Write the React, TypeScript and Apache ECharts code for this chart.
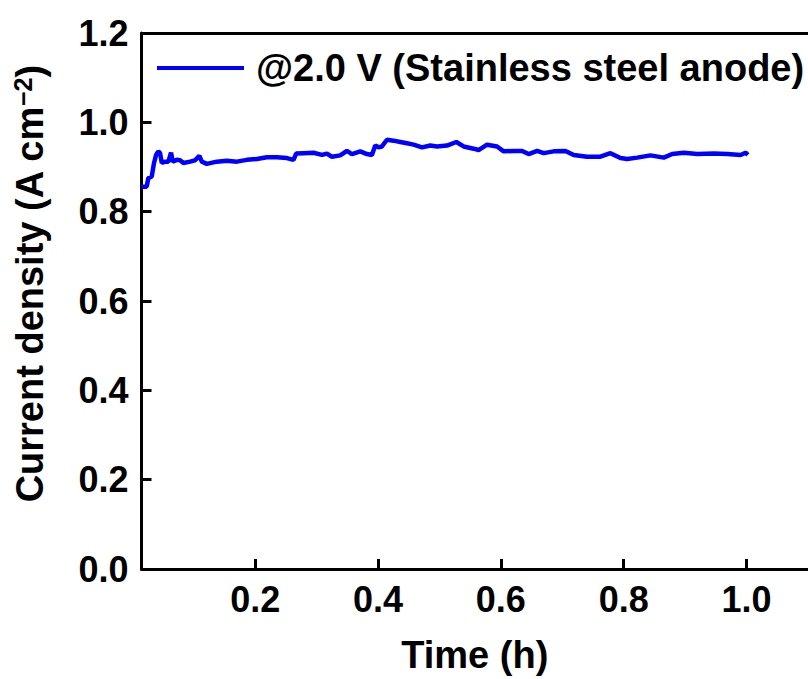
import React, { useEffect, useRef } from "react";
import * as echarts from "echarts";

const seriesName = "@2.0 V (Stainless steel anode)";
const timeH = [
  0.0154, 0.0235, 0.0261, 0.0317, 0.0354, 0.0387, 0.0424, 0.0452, 0.048, 0.0534,
  0.0587, 0.0631, 0.0659, 0.0724, 0.0778, 0.0832, 0.0941, 0.1022, 0.1092, 0.1132,
  0.1213, 0.1376, 0.1539, 0.1702, 0.1865, 0.2028, 0.2191, 0.2354, 0.2517, 0.2624,
  0.2668, 0.2787, 0.295, 0.3087, 0.3168, 0.325, 0.3385, 0.3494, 0.3576, 0.3711,
  0.382, 0.3901, 0.3955, 0.4009, 0.4064, 0.4146, 0.4253, 0.4363, 0.4472, 0.4579,
  0.4716, 0.4851, 0.4961, 0.5123, 0.5275, 0.5394, 0.5557, 0.5638, 0.5775, 0.5938,
  0.6046, 0.6209, 0.6345, 0.6453, 0.659, 0.6697, 0.686, 0.7051, 0.7186, 0.7404,
  0.7621, 0.7784, 0.7947, 0.8056, 0.8219, 0.8436, 0.8652, 0.8789, 0.8978, 0.9197,
  0.9467, 0.9686, 0.9902, 0.9984, 1.0021,
];
const currentDensity = [
  0.856, 0.856, 0.875, 0.879, 0.909, 0.927, 0.935, 0.931, 0.909, 0.912,
  0.912, 0.932, 0.912, 0.916, 0.915, 0.909, 0.912, 0.915, 0.925, 0.912,
  0.907, 0.912, 0.914, 0.912, 0.916, 0.918, 0.922, 0.922, 0.92, 0.916,
  0.93, 0.931, 0.932, 0.927, 0.93, 0.923, 0.926, 0.936, 0.929, 0.935,
  0.929, 0.927, 0.948, 0.944, 0.946, 0.961, 0.959, 0.956, 0.953, 0.95,
  0.944, 0.948, 0.946, 0.948, 0.956, 0.946, 0.941, 0.938, 0.95, 0.946,
  0.935, 0.936, 0.936, 0.929, 0.936, 0.931, 0.935, 0.936, 0.927, 0.923,
  0.923, 0.931, 0.92, 0.918, 0.921, 0.926, 0.921, 0.929, 0.932, 0.929,
  0.93, 0.929, 0.927, 0.932, 0.927,
];
const xTickValues = [0.2, 0.4, 0.6, 0.8, 1.0];

const FONT = "'Liberation Sans', Arial, Helvetica, sans-serif";

export default function App() {
  const ref = useRef<HTMLDivElement>(null);
  useEffect(() => {
    if (!ref.current) return;
    const chart = echarts.init(ref.current, null, { renderer: "svg" });
    const data = timeH.map((t, i) => [t, currentDensity[i]]);
    chart.setOption({
      animation: false,
      backgroundColor: "#ffffff",
      grid: { left: 141.5, right: 0, top: 33, bottom: 109.5 },
      legend: {
        left: 157,
        top: 49,
        padding: 0,
        icon: "rect",
        itemWidth: 87,
        itemHeight: 4,
        itemGap: 0,
        data: [seriesName],
        textStyle: {
          fontFamily: FONT,
          fontWeight: "bold",
          fontSize: 38,
          color: "#000",
          padding: [0, 0, 0, 7],
        },
      },
      xAxis: [
        {
          type: "value",
          min: 0.015,
          max: 1.1,
          name: "Time (h)",
          nameLocation: "middle",
          nameGap: 67,
          nameTextStyle: { fontFamily: FONT, fontWeight: "bold", fontSize: 38, color: "#000" },
          axisLine: { show: true, lineStyle: { color: "#000", width: 3 } },
          axisTick: {
            show: true,
            inside: true,
            length: 10,
            customValues: xTickValues,
            lineStyle: { color: "#000", width: 3 },
          },
          axisLabel: {
            customValues: xTickValues,
            formatter: (v: number) => v.toFixed(1),
            fontFamily: FONT,
            fontWeight: "bold",
            fontSize: 36,
            color: "#000",
            margin: 12,
          },
          splitLine: { show: false },
        },
        {
          type: "value",
          position: "top",
          min: 0.015,
          max: 1.1,
          axisLine: { show: true, onZero: false, lineStyle: { color: "#000", width: 3 } },
          axisTick: { show: false },
          axisLabel: { show: false },
          splitLine: { show: false },
        },
      ],
      yAxis: {
        type: "value",
        min: 0,
        max: 1.2,
        interval: 0.2,
        name: "{pad|}Current density (A cm{sup|−2})",
        nameLocation: "middle",
        nameGap: 92,
        nameTextStyle: {
          fontFamily: FONT,
          fontWeight: "bold",
          fontSize: 38,
          color: "#000",
          rich: {
            pad: { width: 34, fontSize: 38 },
            sup: {
              fontFamily: FONT,
              fontWeight: "bold",
              fontSize: 25,
              color: "#000",
              verticalAlign: "top",
              padding: [0, 0, 14, 0],
            },
          },
        },
        axisLine: { show: true, onZero: false, lineStyle: { color: "#000", width: 3 } },
        axisTick: { show: true, inside: true, length: 10, lineStyle: { color: "#000", width: 3 } },
        axisLabel: {
          formatter: (v: number) => v.toFixed(1),
          fontFamily: FONT,
          fontWeight: "bold",
          fontSize: 36,
          color: "#000",
          margin: 13,
        },
        splitLine: { show: false },
      },
      series: [
        {
          name: seriesName,
          type: "line",
          data,
          showSymbol: false,
          symbol: "none",
          lineStyle: { color: "#0000ff", width: 4.5 },
          itemStyle: { color: "#0000ff" },
        },
      ],
    });
    return () => chart.dispose();
  }, []);
  return <div ref={ref} style={{ width: 808, height: 679, position: "absolute", left: 0, top: 0 }} />;
}
